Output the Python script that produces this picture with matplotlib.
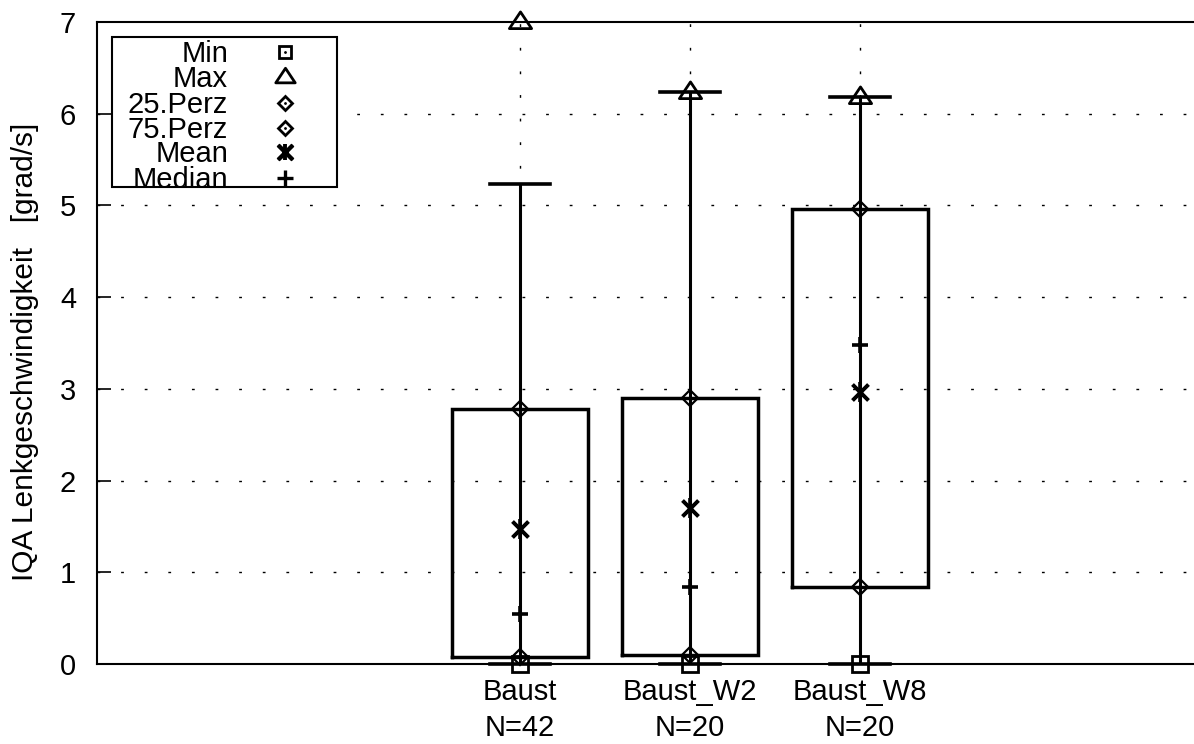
import matplotlib
matplotlib.use("Agg")
import matplotlib.pyplot as plt
from matplotlib.lines import Line2D
from matplotlib.path import Path

plt.rcParams['font.family'] = ['Liberation Sans', 'DejaVu Sans']

# Summary statistics per group
categories = ["Baust", "Baust_W2", "Baust_W8"]
counts = [42, 20, 20]
mins = [0.0, 0.0, 0.0]
maxs = [7.0, 6.24, 6.18]
whisker_hi = [5.23, 6.24, 6.18]
whisker_lo = [0.0, 0.0, 0.0]
perc25 = [0.08, 0.10, 0.84]
perc75 = [2.78, 2.90, 4.96]
means = [1.47, 1.70, 2.97]
medians = [0.55, 0.84, 3.48]

positions = [1, 2, 3]
box_width = 0.8
cap_width = 0.35
FS = 21

# wide, flat open triangle (gnuplot-like)
tri = Path([(-1, -0.55), (1, -0.55), (0, 0.95), (-1, -0.55)],
           [Path.MOVETO, Path.LINETO, Path.LINETO, Path.CLOSEPOLY])

fig = plt.figure(figsize=(11.94, 7.44), dpi=100)
ax = fig.add_axes([97 / 1194, 1 - 664 / 744, 1 - 97 / 1194, (664 - 22) / 744])
ax.set_xlim(1 - 423 / 170, 1 + 674 / 170)
ax.set_ylim(0, 7)

# grid: dotted horizontal lines at integer values, vertical at the groups
grid_kw = dict(color="black", lw=1.0, dashes=(2, 15), zorder=1)
for yv in range(1, 7):
    ax.axhline(yv, **grid_kw)
for xp in positions:
    ax.axvline(xp, **grid_kw)

lw_box = 2.5
for i, xp in enumerate(positions):
    # box between the quartiles
    ax.plot([xp - box_width / 2, xp + box_width / 2, xp + box_width / 2,
             xp - box_width / 2, xp - box_width / 2],
            [perc25[i], perc25[i], perc75[i], perc75[i], perc25[i]],
            color="black", lw=lw_box, zorder=3, solid_joinstyle="miter")
    # whisker and caps
    ax.plot([xp, xp], [whisker_lo[i], whisker_hi[i]], color="black", lw=2.2, zorder=3)
    for wv in (whisker_lo[i], whisker_hi[i]):
        ax.plot([xp - cap_width / 2, xp + cap_width / 2], [wv, wv],
                color="black", lw=2.6, zorder=3, clip_on=False)

mk = dict(color="black", ls="none", zorder=5, clip_on=False)
ax.plot(positions, mins, marker="s", ms=11, mfc="none", mew=2.0, **mk)
ax.plot(positions, maxs, marker=tri, ms=16, mfc="none", mew=2.0, **mk)
for q in (perc25, perc75):
    ax.plot(positions, q, marker="D", ms=8, mfc="none", mew=1.6, **mk)
    ax.plot(positions, q, marker="+", ms=5, mew=1.0, **mk)
ax.plot(positions, means, marker=(4, 2, 45), ms=16, mew=2.6, **mk)
ax.plot(positions, means, marker="|", ms=14, mew=2.6, **mk)
ax.plot(positions, medians, marker="+", ms=11, mew=2.6, **mk)

# spines and ticks
ax.spines["right"].set_visible(False)
for s in ("left", "top", "bottom"):
    ax.spines[s].set_linewidth(1.5)
ax.set_yticks(range(0, 8))
ax.tick_params(axis="y", direction="in", length=10, width=1.2,
               labelsize=FS, pad=15)
ax.set_xticks(positions)
ax.set_xticklabels([f"{c}\nN={n}" for c, n in zip(categories, counts)],
                   fontsize=FS, linespacing=1.38)
ax.tick_params(axis="x", length=0, pad=10)
fig.text(25 / 1194, 1 - 352 / 744, "IQA Lenkgeschwindigkeit   [grad/s]",
         rotation=90, ha="center", va="center", fontsize=21.5)

# legend drawn as a framed block with right-aligned labels
leg_x0, leg_x1 = 112, 337
leg_y0, leg_y1 = 37, 187
frame = plt.Rectangle((leg_x0 / 1194, 1 - leg_y1 / 744),
                      (leg_x1 - leg_x0) / 1194, (leg_y1 - leg_y0) / 744,
                      transform=fig.transFigure, fill=True, fc="white",
                      ec="black", lw=1.5, zorder=10)
fig.add_artist(frame)
legend_items = [
    ("Min", [dict(marker="s", ms=8, mfc="none", mew=2.0),
             dict(marker=".", ms=2)]),
    ("Max", [dict(marker=tri, ms=14, mfc="none", mew=2.0)]),
    ("25.Perz", [dict(marker="D", ms=7.5, mfc="none", mew=2.0),
                 dict(marker=".", ms=2)]),
    ("75.Perz", [dict(marker="D", ms=7.5, mfc="none", mew=2.0),
                 dict(marker=".", ms=2)]),
    ("Mean", [dict(marker=(4, 2, 45), ms=15, mew=2.8),
              dict(marker="|", ms=12, mew=2.8)]),
    ("Median", [dict(marker="+", ms=11, mew=2.4)]),
]
row_y = [52, 77, 103, 128, 152, 178]
for (lab, styles), ry in zip(legend_items, row_y):
    yf = 1 - (ry + 10) / 744
    t = fig.text(228 / 1194, yf, lab, ha="right", va="baseline",
                 fontsize=FS, zorder=11)
    t.set_clip_path(frame)
    xf = 285 / 1194
    for st in styles:
        fig.add_artist(Line2D([xf], [1 - ry / 744], transform=fig.transFigure,
                              color="black", zorder=11, **st))

fig.savefig("out.png", dpi=100)
